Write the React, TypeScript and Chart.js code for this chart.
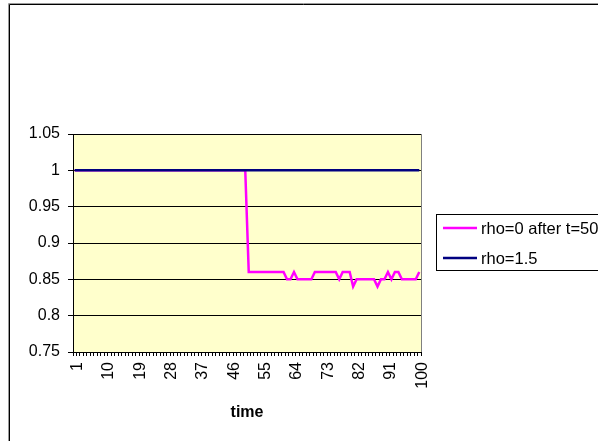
import { useEffect, useRef } from 'react';
import { Chart, registerables } from 'chart.js';

Chart.register(...registerables);

// time steps 1..100 on the category axis
const times: string[] = [
  '1', '2', '3', '4', '5', '6', '7', '8', '9', '10',
  '11', '12', '13', '14', '15', '16', '17', '18', '19', '20',
  '21', '22', '23', '24', '25', '26', '27', '28', '29', '30',
  '31', '32', '33', '34', '35', '36', '37', '38', '39', '40',
  '41', '42', '43', '44', '45', '46', '47', '48', '49', '50',
  '51', '52', '53', '54', '55', '56', '57', '58', '59', '60',
  '61', '62', '63', '64', '65', '66', '67', '68', '69', '70',
  '71', '72', '73', '74', '75', '76', '77', '78', '79', '80',
  '81', '82', '83', '84', '85', '86', '87', '88', '89', '90',
  '91', '92', '93', '94', '95', '96', '97', '98', '99', '100',
];

// labels printed under the time axis
const shownTimeLabels: string[] = ['1', '10', '19', '28', '37', '46', '55', '64', '73', '82', '91', '100'];

// rho switched to 0 after t = 50
const rhoZeroAfter50: number[] = [
  1, 1, 1, 1, 1, 1, 1, 1, 1, 1,
  1, 1, 1, 1, 1, 1, 1, 1, 1, 1,
  1, 1, 1, 1, 1, 1, 1, 1, 1, 1,
  1, 1, 1, 1, 1, 1, 1, 1, 1, 1,
  1, 1, 1, 1, 1, 1, 1, 1, 1, 1,
  0.86, 0.86, 0.86, 0.86, 0.86, 0.86, 0.86, 0.86, 0.86, 0.86,
  0.86, 0.85, 0.85, 0.86, 0.85, 0.85, 0.85, 0.85, 0.85, 0.86,
  0.86, 0.86, 0.86, 0.86, 0.86, 0.86, 0.85, 0.86, 0.86, 0.86,
  0.84, 0.85, 0.85, 0.85, 0.85, 0.85, 0.85, 0.84, 0.85, 0.85,
  0.86, 0.85, 0.86, 0.86, 0.85, 0.85, 0.85, 0.85, 0.85, 0.86,
];

// rho held at 1.5
const rhoOnePointFive: number[] = [
  1, 1, 1, 1, 1, 1, 1, 1, 1, 1,
  1, 1, 1, 1, 1, 1, 1, 1, 1, 1,
  1, 1, 1, 1, 1, 1, 1, 1, 1, 1,
  1, 1, 1, 1, 1, 1, 1, 1, 1, 1,
  1, 1, 1, 1, 1, 1, 1, 1, 1, 1,
  1, 1, 1, 1, 1, 1, 1, 1, 1, 1,
  1, 1, 1, 1, 1, 1, 1, 1, 1, 1,
  1, 1, 1, 1, 1, 1, 1, 1, 1, 1,
  1, 1, 1, 1, 1, 1, 1, 1, 1, 1,
  1, 1, 1, 1, 1, 1, 1, 1, 1, 1,
];

const seriesNames: string[] = ['rho=0 after t=50', 'rho=1.5'];
const seriesColors: string[] = ['#FF00FF', '#000080'];

const FONT = "'Liberation Sans', Arial, sans-serif";
const W = 598;
const H = 441;

// white page with the chart frame, and the pale yellow plot area
const backdrop = {
  id: 'backdrop',
  beforeDraw(chart: any) {
    const { ctx, chartArea: a } = chart;
    ctx.save();
    ctx.fillStyle = '#ffffff';
    ctx.fillRect(0, 0, W, H);
    ctx.lineWidth = 1;
    ctx.strokeStyle = '#9a9a9a';
    ctx.beginPath();
    ctx.moveTo(8.5, H);
    ctx.lineTo(8.5, 3.5);
    ctx.lineTo(W, 3.5);
    ctx.stroke();
    ctx.strokeStyle = '#000000';
    ctx.beginPath();
    ctx.moveTo(9.5, H);
    ctx.lineTo(9.5, 4.5);
    ctx.lineTo(W, 4.5);
    ctx.stroke();
    ctx.fillStyle = '#FFFFCC';
    ctx.fillRect(a.left, a.top, a.right - a.left, a.bottom - a.top);
    ctx.strokeStyle = '#808080';
    ctx.beginPath();
    ctx.moveTo(a.right + 0.5, a.top);
    ctx.lineTo(a.right + 0.5, a.bottom);
    ctx.stroke();
    ctx.restore();
  },
};

// boxed legend to the right of the plot
const sideLegend = {
  id: 'sideLegend',
  afterDraw(chart: any) {
    const { ctx, chartArea: a } = chart;
    const left = a.right + 15;
    const top = 214;
    const bottom = 270;
    ctx.save();
    ctx.fillStyle = '#ffffff';
    ctx.fillRect(left, top, W + 20 - left, bottom - top);
    ctx.strokeStyle = '#000000';
    ctx.lineWidth = 1;
    ctx.strokeRect(left + 0.5, top + 0.5, W + 20 - left, bottom - top);
    ctx.font = `16.5px ${FONT}`;
    ctx.textBaseline = 'middle';
    ctx.textAlign = 'left';
    seriesNames.forEach((name, i) => {
      const y = 228 + i * 30;
      ctx.strokeStyle = seriesColors[i];
      ctx.lineWidth = 2.5;
      ctx.beginPath();
      ctx.moveTo(left + 7, y);
      ctx.lineTo(left + 41, y);
      ctx.stroke();
      ctx.fillStyle = '#000000';
      ctx.fillText(name, left + 45, y + 1);
    });
    ctx.restore();
  },
};

export default function App() {
  const canvasRef = useRef<HTMLCanvasElement | null>(null);

  useEffect(() => {
    const canvas = canvasRef.current;
    if (!canvas) return;
    const chart = new Chart(canvas, {
      type: 'line',
      data: {
        labels: times,
        datasets: [
          {
            label: seriesNames[0],
            data: rhoZeroAfter50,
            borderColor: seriesColors[0],
            backgroundColor: seriesColors[0],
            borderWidth: 2.5,
            pointRadius: 0,
            tension: 0,
            order: 1,
          },
          {
            label: seriesNames[1],
            data: rhoOnePointFive,
            borderColor: seriesColors[1],
            backgroundColor: seriesColors[1],
            borderWidth: 2.5,
            pointRadius: 0,
            tension: 0,
            order: 0,
          },
        ],
      },
      options: {
        responsive: false,
        animation: false,
        devicePixelRatio: 1,
        layout: { padding: { left: 0, top: 134, right: 177, bottom: 0 } },
        plugins: {
          legend: { display: false },
          tooltip: { enabled: false },
        },
        scales: {
          x: {
            type: 'category',
            offset: true,
            afterFit(scale: any) {
              scale.height = 89;
            },
            grid: {
              display: true,
              drawOnChartArea: false,
              drawTicks: true,
              offset: true,
              tickLength: 4,
              color: '#000000',
              tickColor: '#000000',
            },
            border: { display: true, color: '#000000', width: 1 },
            ticks: {
              autoSkip: false,
              maxRotation: 90,
              minRotation: 90,
              padding: 6,
              labelOffset: 3,
              color: '#000000',
              font: { family: FONT, size: 16 },
              callback: (_v: any, i: number) => (shownTimeLabels.includes(times[i]) ? times[i] : ''),
            },
            title: {
              display: true,
              text: 'time',
              color: '#000000',
              font: { family: FONT, size: 16, weight: 'bold' },
              padding: { top: 0, bottom: 19 },
            },
          },
          y: {
            min: 0.75,
            max: 1.05,
            afterFit(scale: any) {
              scale.width = 73;
            },
            grid: {
              color: '#000000',
              tickColor: '#000000',
              lineWidth: 1,
              tickLength: 5,
            },
            border: { display: true, color: '#000000', width: 1 },
            ticks: {
              stepSize: 0.05,
              padding: 8,
              color: '#000000',
              font: { family: FONT, size: 16 },
              callback: (v: any) => String(Number(Number(v).toFixed(2))),
            },
          },
        },
      },
      plugins: [backdrop, sideLegend],
    });
    return () => chart.destroy();
  }, []);

  return (
    <div style={{ position: 'fixed', left: 0, top: 0, width: W, height: H, overflow: 'hidden', background: '#fff' }}>
      <canvas ref={canvasRef} width={W} height={H} style={{ display: 'block', width: W, height: H }} />
    </div>
  );
}
